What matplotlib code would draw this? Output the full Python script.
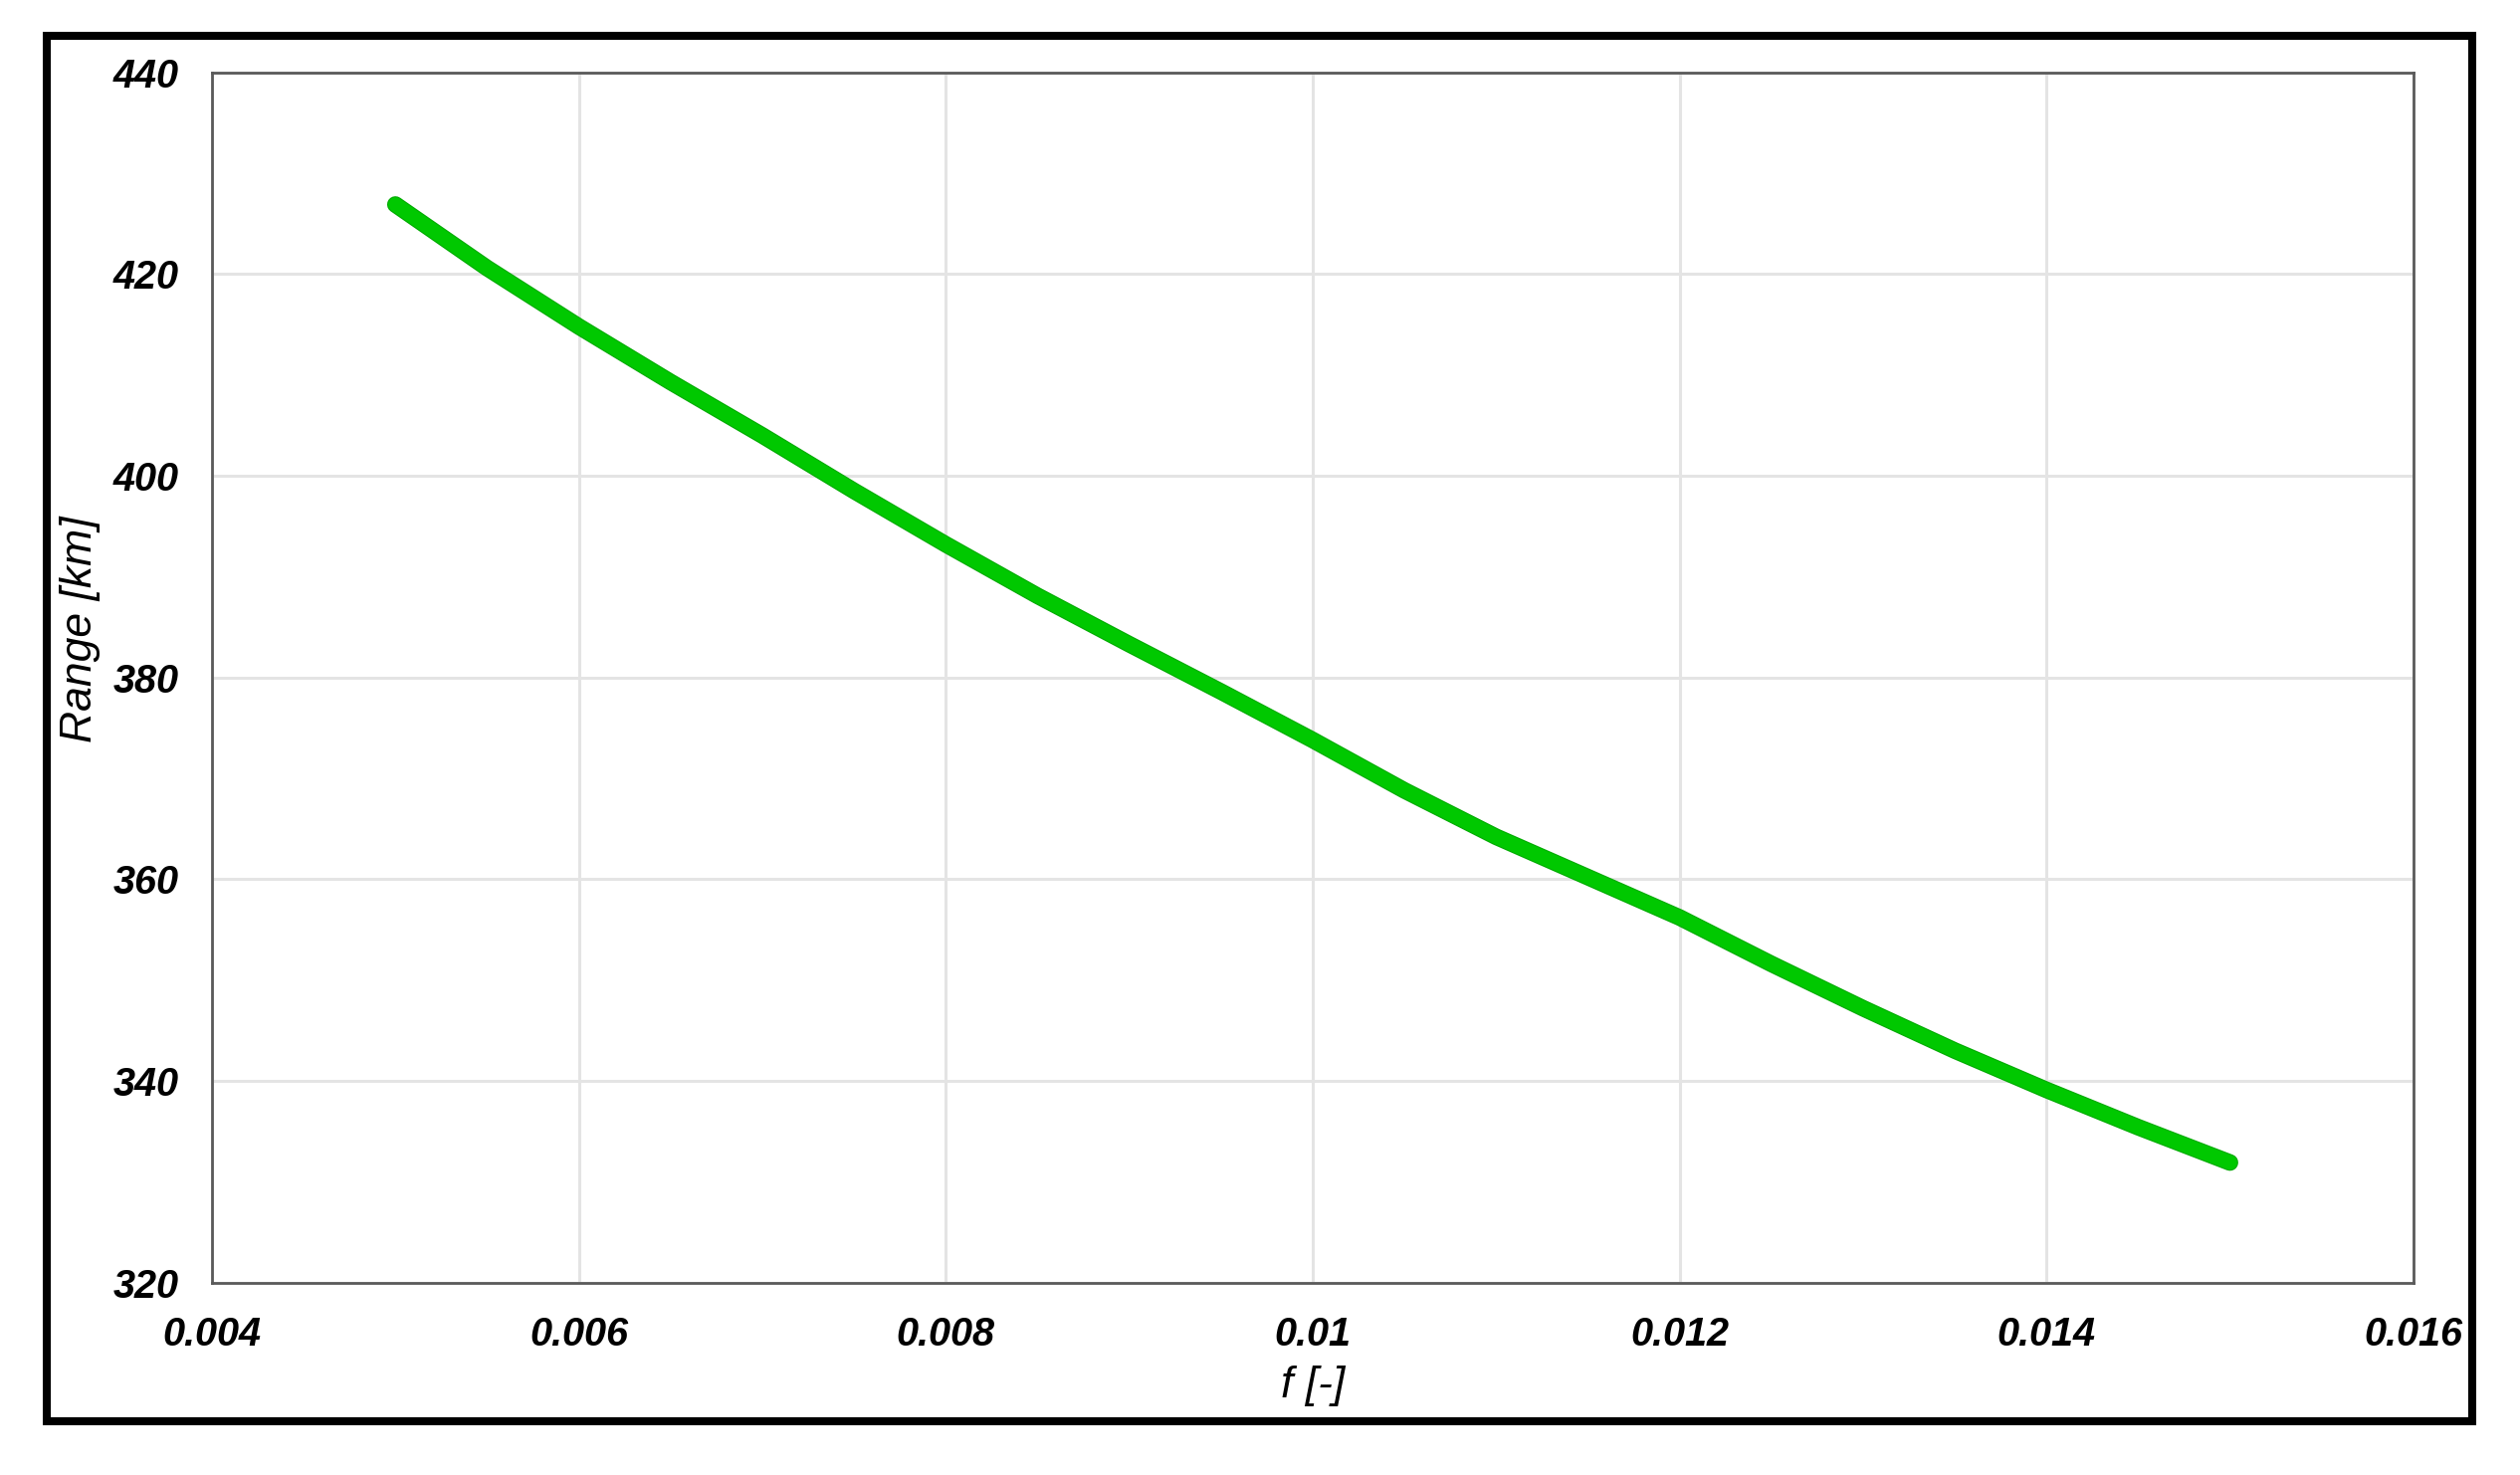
import matplotlib
matplotlib.use("Agg")
import matplotlib.pyplot as plt
import matplotlib.patheffects as pe
from matplotlib.patches import Rectangle

# values
f_vals = [0.005, 0.0055, 0.006, 0.0065, 0.007, 0.0075, 0.008, 0.0085, 0.009, 0.0095,
          0.010, 0.0105, 0.011, 0.0115, 0.012, 0.0125, 0.013, 0.0135, 0.014, 0.0145, 0.015]
range_km = [426.9, 420.6, 414.8, 409.3, 404.0, 398.5, 393.2, 388.1, 383.3, 378.6,
            373.8, 368.8, 364.2, 360.2, 356.2, 351.6, 347.2, 343.0, 339.1, 335.4, 331.9]
x_ticks = [0.004, 0.006, 0.008, 0.01, 0.012, 0.014, 0.016]
x_tick_labels = ["0.004", "0.006", "0.008", "0.01", "0.012", "0.014", "0.016"]
y_ticks = [320, 340, 360, 380, 400, 420, 440]

plt.rcParams['font.family'] = ['Liberation Sans', 'DejaVu Sans']

fig = plt.figure(figsize=(25.32, 14.82), dpi=100)
ax = fig.add_axes([0.0841, 0.1305, 0.8736, 0.8204])

ax.plot(f_vals, range_km, color="#00c800", lw=10.5, solid_capstyle="round",
        solid_joinstyle="round", zorder=3,
        path_effects=[pe.Stroke(linewidth=12, foreground="#00a800"), pe.Normal()])

ax.set_xlim(0.004, 0.016)
ax.set_ylim(320, 440)
ax.set_xticks(x_ticks)
ax.set_xticklabels(x_tick_labels)
ax.set_yticks(y_ticks)
ax.grid(True, color="#e4e4e4", lw=2.2)
ax.set_axisbelow(True)

for sp in ax.spines.values():
    sp.set_color("#5a5a5a")
    sp.set_linewidth(2.0)

ax.tick_params(length=0, pad=24)
for lab in ax.get_xticklabels() + ax.get_yticklabels():
    lab.set_fontsize(28.5)
    lab.set_fontweight("bold")
    lab.set_fontstyle("italic")

ax.set_xlabel("f [-]", fontsize=32, fontstyle="italic", va="top")
ax.xaxis.set_label_coords(0.5, -0.069)
ax.set_ylabel("Range [km]", fontsize=32, fontstyle="italic", va="center")
ax.yaxis.set_label_coords(-0.060, 0.54)

# black frame around the whole chart
fig.add_artist(Rectangle((0.0184, 0.0364), 0.9626, 0.9393, transform=fig.transFigure,
                         fill=False, edgecolor="black", lw=5.8))

fig.savefig("out.png", dpi=100)
